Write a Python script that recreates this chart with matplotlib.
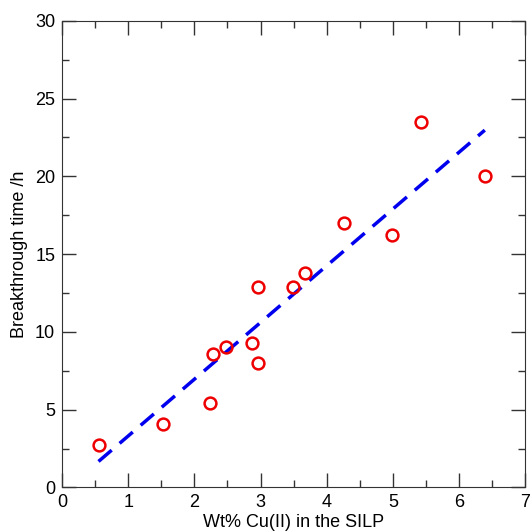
import matplotlib
matplotlib.use('Agg')
import matplotlib.pyplot as plt
import numpy as np
from matplotlib.ticker import MultipleLocator

# data
cu_wt = [0.55, 1.53, 2.23, 2.28, 2.47, 2.87, 2.96, 2.96, 3.49, 3.67, 4.26, 4.99, 5.43, 6.39]
bt_hours = [2.7, 4.1, 5.4, 8.55, 9.0, 9.3, 8.0, 12.9, 12.9, 13.8, 17.0, 16.2, 23.5, 20.0]

plt.rcParams['font.family'] = ['Liberation Sans', 'DejaVu Sans']

fig = plt.figure(figsize=(5.31, 5.31), dpi=100)
ax = fig.add_axes([0.117, 0.082, 0.872, 0.879])

# linear fit
x = np.array(cu_wt)
y = np.array(bt_hours)
k, q = np.polyfit(x, y, 1)
xf = np.array([x.min(), x.max()])
ax.plot(xf, k * xf + q, color='#0000ee', lw=2.5, dashes=(5, 3))

ax.plot(cu_wt, bt_hours, 'o', ms=8.5, mfc='none', mec='#ee0000', mew=1.8)

ax.set_xlim(0, 7)
ax.set_ylim(0, 30)
ax.xaxis.set_major_locator(MultipleLocator(1))
ax.xaxis.set_minor_locator(MultipleLocator(0.5))
ax.yaxis.set_major_locator(MultipleLocator(5))
ax.yaxis.set_minor_locator(MultipleLocator(2.5))
ax.tick_params(which='both', direction='in', top=True, right=True, labelsize=13, colors='#333333', labelcolor='black')
ax.tick_params(which='major', length=10, width=1, pad=5)
ax.tick_params(which='minor', length=5, width=1)
for s in ax.spines.values():
    s.set_color('#333333')

ax.set_xlabel('Wt% Cu(II) in the SILP', fontsize=13, labelpad=2)
ax.set_ylabel('Breakthrough time /h', fontsize=13, labelpad=5)

plt.savefig('out.png')
